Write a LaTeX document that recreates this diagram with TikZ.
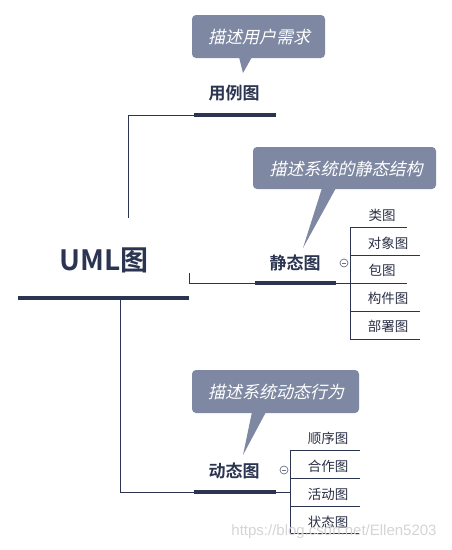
\documentclass[tikz,border=0pt]{standalone}
\usepackage{fontspec}
\setmainfont{Noto Sans CJK SC}[BoldFont={Noto Sans CJK SC Bold}]
\newfontfamily\slantcjk{Noto Sans CJK SC}[FakeSlant=0.22]
\newfontfamily\wmfont{Liberation Sans}
\definecolor{navy}{HTML}{2B3450}
\definecolor{callfill}{HTML}{7E88A2}
\definecolor{childtxt}{HTML}{2A2F45}
\begin{document}
\begin{tikzpicture}[x=1pt,y=-1pt,
  thinline/.style={draw=navy,line width=0.8pt},
  bar/.style={draw=navy,line width=3.5pt},
  rootbar/.style={draw=navy,line width=4.5pt},
  maintxt/.style={font=\bfseries\fontsize{17}{19}\selectfont,text=navy,inner sep=0pt},
  childtxt/.style={font=\fontsize{13.5}{15}\selectfont,text=childtxt,inner sep=0pt},
  calltxt/.style={font=\slantcjk\fontsize{17}{19}\selectfont,text=white,inner sep=0pt},
  callbox/.style={fill=callfill,rounded corners=4pt},
  collapse/.style={circle,draw=navy!70,fill=white,line width=0.7pt,minimum size=8pt,inner sep=0pt}]
\useasboundingbox (0,0) rectangle (452,550);

% root
\node[font=\bfseries\fontsize{28}{32}\selectfont,text=navy,inner sep=0pt] (root) at (104,260) {UML图};
\coordinate (rbL) at (18,298);
\coordinate (rbR) at (189,298);
\draw[rootbar] (rbL) -- (rbR);

% 用例图
\node[maintxt] (uc) at (234,93) {用例图};
\coordinate (ucL) at (194,115);
\coordinate (ucR) at (276,115);
\coordinate (ucA) at (128,218);
\coordinate (ucB) at (128,115);
\draw[thinline] (ucA) -- (ucB) -- (ucL);
\draw[bar] (ucL) -- (ucR);
% callout 1
\coordinate (c1a) at (239,57);
\coordinate (c1b) at (252,57);
\coordinate (c1t) at (243,73);
\fill[callfill] (c1a) -- (c1t) -- (c1b) -- cycle;
\fill[callbox] (192,15) rectangle (325,58);
\node[calltxt] (c1) at (259,37) {描述用户需求};

% 静态图
\node[maintxt] (st) at (295,263) {静态图};
\coordinate (stL) at (255,283);
\coordinate (stR) at (336,283);
\coordinate (stA) at (189,273);
\coordinate (stB) at (189,283);
\draw[thinline] (stA) -- (stB) -- (stL);
\draw[bar] (stL) -- (stR);
\coordinate (stJ) at (350,283);
\draw[thinline] (stR) -- (stJ);
\coordinate (stTop) at (350,227);
\coordinate (stBot) at (350,339);
\draw[thinline] (stTop) -- (stBot);
\node[collapse] (stc) at (344,263) {};
\draw[navy!70,line width=0.7pt] ([xshift=-2pt]stc.center) -- ([xshift=2pt]stc.center);
% callout 2
\coordinate (c2a) at (322,188);
\coordinate (c2b) at (336,188);
\coordinate (c2t) at (303,248);
\fill[callfill] (c2a) -- (c2t) -- (c2b) -- cycle;
\fill[callbox] (253,147) rectangle (436,189);
\node[calltxt] (c2) at (346,169) {描述系统的静态结构};

% static children
\node[childtxt] (s1) at (382,215) {类图};
\node[childtxt] (s2) at (388,243) {对象图};
\node[childtxt] (s3) at (382,270) {包图};
\node[childtxt] (s4) at (388,298) {构件图};
\node[childtxt] (s5) at (388,326) {部署图};
\draw[thinline] (350,227) -- (407,227);
\draw[thinline] (350,255) -- (420,255);
\draw[thinline] (350,283) -- (407,283);
\draw[thinline] (350,311) -- (420,311);
\draw[thinline] (350,339) -- (420,339);

% 动态图
\node[maintxt] (dy) at (234,471) {动态图};
\coordinate (dyL) at (194,492);
\coordinate (dyR) at (276,492);
\coordinate (dyA) at (120,300);
\coordinate (dyB) at (120,492);
\draw[thinline] (dyA) -- (dyB) -- (dyL);
\draw[bar] (dyL) -- (dyR);
\coordinate (dyJ) at (290,492);
\draw[thinline] (dyR) -- (dyJ);
\coordinate (dyTop) at (290,450);
\coordinate (dyBot) at (290,533);
\draw[thinline] (dyTop) -- (dyBot);
\node[collapse] (dyc) at (284,470) {};
\draw[navy!70,line width=0.7pt] ([xshift=-2pt]dyc.center) -- ([xshift=2pt]dyc.center);
% callout 3
\coordinate (c3a) at (252,412);
\coordinate (c3b) at (266,412);
\coordinate (c3t) at (243,455);
\fill[callfill] (c3a) -- (c3t) -- (c3b) -- cycle;
\fill[callbox] (192,370) rectangle (359,413);
\node[calltxt] (c3) at (276,392) {描述系统动态行为};

% dynamic children
\node[childtxt] (d1) at (328,438) {顺序图};
\node[childtxt] (d2) at (328,466) {合作图};
\node[childtxt] (d3) at (328,494) {活动图};
\node[childtxt] (d4) at (328,522) {状态图};
\draw[thinline] (290,450) -- (360,450);
\draw[thinline] (290,478) -- (360,478);
\draw[thinline] (290,506) -- (360,506);
\draw[thinline] (290,533) -- (360,533);

% watermark
\node[font=\wmfont\fontsize{15}{17}\selectfont,text=black!17,inner sep=0pt] (wm) at (334,532) {https://blog.csdn.net/Ellen5203};
\end{tikzpicture}
\end{document}
